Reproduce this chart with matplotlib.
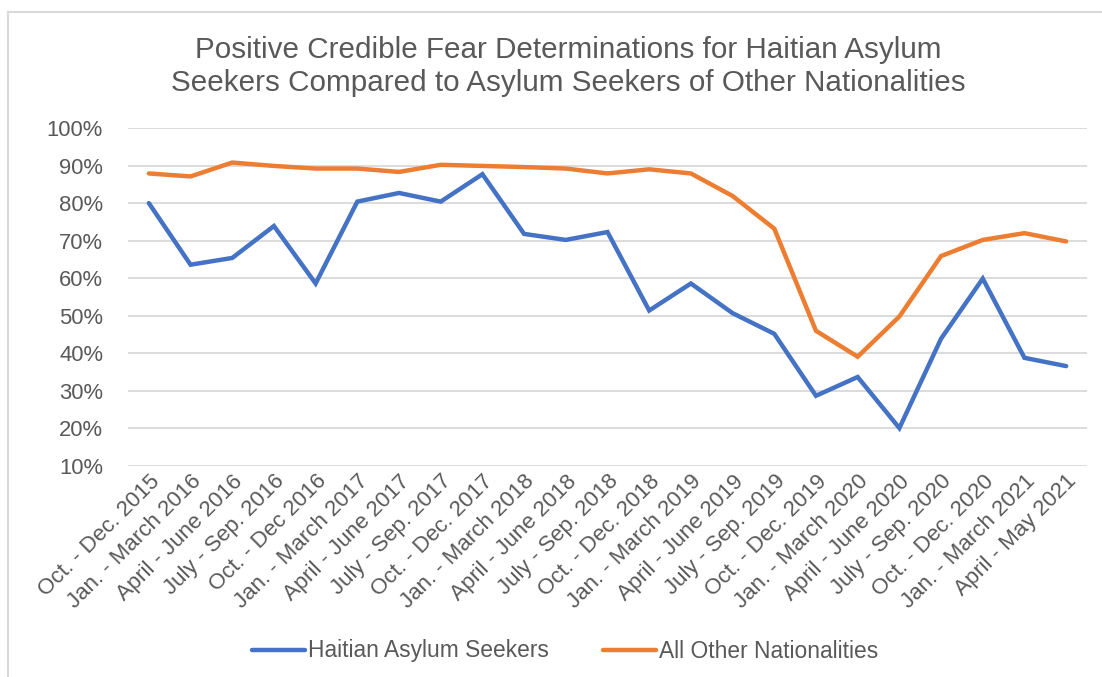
import matplotlib
matplotlib.use("Agg")
import matplotlib.pyplot as plt
from matplotlib.lines import Line2D
from matplotlib.ticker import FuncFormatter, MultipleLocator

categories = [
    "Oct. - Dec. 2015", "Jan. - March 2016", "April - June 2016", "July - Sep. 2016",
    "Oct. - Dec 2016", "Jan. - March 2017", "April - June 2017", "July - Sep. 2017",
    "Oct. - Dec. 2017", "Jan. - March 2018", "April - June 2018", "July - Sep. 2018",
    "Oct. - Dec. 2018", "Jan. - March 2019", "April - June 2019", "July - Sep. 2019",
    "Oct. - Dec. 2019", "Jan. - March 2020", "April - June 2020", "July - Sep. 2020",
    "Oct. - Dec. 2020", "Jan. - March 2021", "April - May 2021",
]
haitian = [80.0, 63.6, 65.4, 73.9, 58.6, 80.4, 82.7, 80.4, 87.7, 71.8, 70.2, 72.3,
           51.4, 58.6, 50.7, 45.2, 28.7, 33.7, 20.1, 43.9, 59.9, 38.8, 36.6]
others = [87.9, 87.1, 90.8, 89.9, 89.2, 89.2, 88.3, 90.2, 89.9, 89.6, 89.2, 87.9,
          89.0, 87.9, 81.9, 73.2, 46.0, 39.1, 49.8, 65.9, 70.2, 72.0, 69.8]
series_names = ["Haitian Asylum Seekers", "All Other Nationalities"]

font = "Liberation Sans"
gray = "#595959"
blue = "#4472C4"
orange = "#ED7D31"

fig = plt.figure(figsize=(11.02, 6.77), dpi=100)
ax = fig.add_axes([128 / 1102, 1 - 466 / 677, (1087 - 128) / 1102, (466 - 128) / 677])

x = list(range(len(categories)))
ax.plot(x, haitian, color=blue, lw=3.2, solid_joinstyle="miter", solid_capstyle="round", zorder=3)
ax.plot(x, others, color=orange, lw=3.2, solid_joinstyle="miter", solid_capstyle="round", zorder=3)

ax.set_xlim(-0.5, len(categories) - 0.5)
ax.set_ylim(10, 100)
ax.yaxis.set_major_locator(MultipleLocator(10))
ax.yaxis.set_major_formatter(FuncFormatter(lambda v, p: f"{v:.0f}%"))
ax.grid(axis="y", color="#D9D9D9", lw=1.3)
ax.set_axisbelow(True)
for s in ax.spines.values():
    s.set_visible(False)
ax.tick_params(axis="both", length=0, colors=gray)
ax.tick_params(axis="y", pad=18, labelsize=15.8)
ax.tick_params(axis="x", labelsize=16)
ax.set_xticks(x)
ax.set_xticklabels(categories, rotation=45, ha="right", rotation_mode="anchor", fontfamily=font)
for lab in ax.get_yticklabels():
    lab.set_fontfamily(font)

fig.text(0.516, 1 - 50 / 677, "Positive Credible Fear Determinations for Haitian Asylum",
         ha="center", va="center", fontsize=21.3, color=gray, fontfamily=font)
fig.text(0.516, 1 - 83 / 677, "Seekers Compared to Asylum Seekers of Other Nationalities",
         ha="center", va="center", fontsize=21.3, color=gray, fontfamily=font)

handles = [Line2D([], [], color=blue, lw=3.2, solid_capstyle="round"),
           Line2D([], [], color=orange, lw=3.2, solid_capstyle="round")]
fig.legend(handles, series_names, loc="center", bbox_to_anchor=(0.513, 1 - 651 / 677),
           ncol=2, frameon=False, labelcolor=gray, handlelength=2.3,
           handletextpad=0.15, columnspacing=2.4, prop={"family": font, "size": 16.4})

# chart border (top and left visible)
fig.add_artist(Line2D([7.5 / 1102, 7.5 / 1102], [0, 1 - 12 / 677], color="#D9D9D9", lw=1.5,
                      transform=fig.transFigure))
fig.add_artist(Line2D([7.5 / 1102, 1], [1 - 12 / 677, 1 - 12 / 677], color="#D9D9D9", lw=1.5,
                      transform=fig.transFigure))

fig.savefig("out.png", dpi=100, facecolor="white")
